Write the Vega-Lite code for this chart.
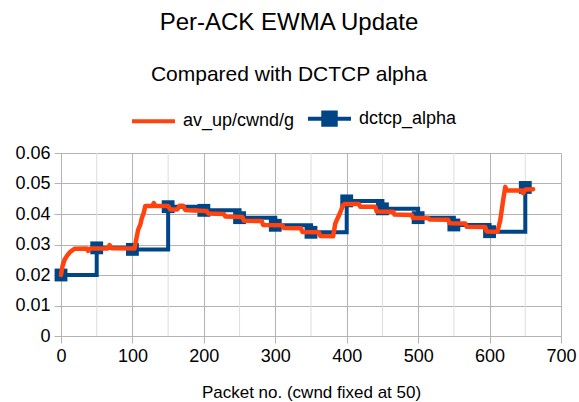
{
  "$schema": "https://vega.github.io/schema/vega-lite/v6.json",
  "width": 500,
  "height": 183,
  "autosize": {"type": "none"},
  "padding": {"left": 61, "top": 153, "right": 18, "bottom": 66},
  "background": "white",
  "title": {
    "text": "Per-ACK EWMA Update",
    "subtitle": "Compared with DCTCP alpha",
    "anchor": "middle",
    "frame": "group",
    "dx": -22,
    "font": "Liberation Sans",
    "fontSize": 24,
    "fontWeight": "normal",
    "color": "black",
    "subtitleFont": "Liberation Sans",
    "subtitleFontSize": 21,
    "subtitleColor": "black",
    "subtitlePadding": 29,
    "offset": 10
  },
  "config": {
    "view": {"stroke": null},
    "font": "Liberation Sans",
    "axis": {
      "labelFont": "Liberation Sans",
      "labelFontSize": 18,
      "labelColor": "black",
      "labelOverlap": false,
      "labelSeparation": 0,
      "titleFont": "Liberation Sans",
      "titleFontSize": 17,
      "titleFontWeight": "normal",
      "titleColor": "black",
      "gridColor": "#b3b3b3",
      "domainColor": "#b3b3b3",
      "tickColor": "#b3b3b3",
      "tickSize": 7,
      "gridWidth": 1,
      "domainWidth": 1,
      "tickWidth": 1
    },
    "axisX": {"labelPadding": 4, "titlePadding": 19},
    "axisY": {"labelPadding": 4, "labelOverlap": false},
    "legend": {
      "orient": "none",
      "legendX": 69,
      "legendY": -58,
      "direction": "horizontal",
      "padding": 0,
      "labelFont": "Liberation Sans",
      "labelFontSize": 18,
      "labelColor": "black",
      "symbolSize": 1849,
      "symbolStrokeWidth": 4,
      "labelOffset": 6,
      "columnPadding": 5
    }
  },
  "data": {"values": [
    {"series": "dctcp_alpha", "x": 0, "y": 0.0200},
    {"series": "dctcp_alpha", "x": 50, "y": 0.0289},
    {"series": "dctcp_alpha", "x": 100, "y": 0.0284},
    {"series": "dctcp_alpha", "x": 150, "y": 0.0424},
    {"series": "dctcp_alpha", "x": 200, "y": 0.0412},
    {"series": "dctcp_alpha", "x": 250, "y": 0.0388},
    {"series": "dctcp_alpha", "x": 300, "y": 0.0363},
    {"series": "dctcp_alpha", "x": 350, "y": 0.0340},
    {"series": "dctcp_alpha", "x": 400, "y": 0.0443},
    {"series": "dctcp_alpha", "x": 450, "y": 0.0417},
    {"series": "dctcp_alpha", "x": 500, "y": 0.0388},
    {"series": "dctcp_alpha", "x": 550, "y": 0.0364},
    {"series": "dctcp_alpha", "x": 600, "y": 0.0342},
    {"series": "dctcp_alpha", "x": 650, "y": 0.0487},
    {"series": "av_up/cwnd/g", "x": 0, "y": 0.0200},
    {"series": "av_up/cwnd/g", "x": 2, "y": 0.0228},
    {"series": "av_up/cwnd/g", "x": 5, "y": 0.0250},
    {"series": "av_up/cwnd/g", "x": 9, "y": 0.0265},
    {"series": "av_up/cwnd/g", "x": 13, "y": 0.0276},
    {"series": "av_up/cwnd/g", "x": 19, "y": 0.0286},
    {"series": "av_up/cwnd/g", "x": 36, "y": 0.0287},
    {"series": "av_up/cwnd/g", "x": 38, "y": 0.0279},
    {"series": "av_up/cwnd/g", "x": 41, "y": 0.0287},
    {"series": "av_up/cwnd/g", "x": 65, "y": 0.0287},
    {"series": "av_up/cwnd/g", "x": 68, "y": 0.0298},
    {"series": "av_up/cwnd/g", "x": 71, "y": 0.0288},
    {"series": "av_up/cwnd/g", "x": 103, "y": 0.0287},
    {"series": "av_up/cwnd/g", "x": 106, "y": 0.0325},
    {"series": "av_up/cwnd/g", "x": 108, "y": 0.0348},
    {"series": "av_up/cwnd/g", "x": 111, "y": 0.0365},
    {"series": "av_up/cwnd/g", "x": 113, "y": 0.0385},
    {"series": "av_up/cwnd/g", "x": 116, "y": 0.0405},
    {"series": "av_up/cwnd/g", "x": 118, "y": 0.0426},
    {"series": "av_up/cwnd/g", "x": 128, "y": 0.0426},
    {"series": "av_up/cwnd/g", "x": 130, "y": 0.0436},
    {"series": "av_up/cwnd/g", "x": 132, "y": 0.0426},
    {"series": "av_up/cwnd/g", "x": 150, "y": 0.0426},
    {"series": "av_up/cwnd/g", "x": 153, "y": 0.0415},
    {"series": "av_up/cwnd/g", "x": 163, "y": 0.0415},
    {"series": "av_up/cwnd/g", "x": 166, "y": 0.0427},
    {"series": "av_up/cwnd/g", "x": 171, "y": 0.0427},
    {"series": "av_up/cwnd/g", "x": 174, "y": 0.0413},
    {"series": "av_up/cwnd/g", "x": 178, "y": 0.0412},
    {"series": "av_up/cwnd/g", "x": 204, "y": 0.0410},
    {"series": "av_up/cwnd/g", "x": 206, "y": 0.0402},
    {"series": "av_up/cwnd/g", "x": 228, "y": 0.0400},
    {"series": "av_up/cwnd/g", "x": 230, "y": 0.0392},
    {"series": "av_up/cwnd/g", "x": 254, "y": 0.0390},
    {"series": "av_up/cwnd/g", "x": 256, "y": 0.0378},
    {"series": "av_up/cwnd/g", "x": 281, "y": 0.0377},
    {"series": "av_up/cwnd/g", "x": 283, "y": 0.0364},
    {"series": "av_up/cwnd/g", "x": 310, "y": 0.0363},
    {"series": "av_up/cwnd/g", "x": 312, "y": 0.0354},
    {"series": "av_up/cwnd/g", "x": 336, "y": 0.0353},
    {"series": "av_up/cwnd/g", "x": 338, "y": 0.0341},
    {"series": "av_up/cwnd/g", "x": 361, "y": 0.0340},
    {"series": "av_up/cwnd/g", "x": 363, "y": 0.0328},
    {"series": "av_up/cwnd/g", "x": 381, "y": 0.0327},
    {"series": "av_up/cwnd/g", "x": 384, "y": 0.0369},
    {"series": "av_up/cwnd/g", "x": 390, "y": 0.0400},
    {"series": "av_up/cwnd/g", "x": 395, "y": 0.0429},
    {"series": "av_up/cwnd/g", "x": 397, "y": 0.0433},
    {"series": "av_up/cwnd/g", "x": 417, "y": 0.0433},
    {"series": "av_up/cwnd/g", "x": 419, "y": 0.0424},
    {"series": "av_up/cwnd/g", "x": 440, "y": 0.0424},
    {"series": "av_up/cwnd/g", "x": 442, "y": 0.0408},
    {"series": "av_up/cwnd/g", "x": 465, "y": 0.0407},
    {"series": "av_up/cwnd/g", "x": 467, "y": 0.0398},
    {"series": "av_up/cwnd/g", "x": 491, "y": 0.0397},
    {"series": "av_up/cwnd/g", "x": 493, "y": 0.0387},
    {"series": "av_up/cwnd/g", "x": 514, "y": 0.0387},
    {"series": "av_up/cwnd/g", "x": 516, "y": 0.0382},
    {"series": "av_up/cwnd/g", "x": 542, "y": 0.0381},
    {"series": "av_up/cwnd/g", "x": 544, "y": 0.0370},
    {"series": "av_up/cwnd/g", "x": 566, "y": 0.0369},
    {"series": "av_up/cwnd/g", "x": 568, "y": 0.0358},
    {"series": "av_up/cwnd/g", "x": 594, "y": 0.0357},
    {"series": "av_up/cwnd/g", "x": 596, "y": 0.0343},
    {"series": "av_up/cwnd/g", "x": 611, "y": 0.0342},
    {"series": "av_up/cwnd/g", "x": 615, "y": 0.0380},
    {"series": "av_up/cwnd/g", "x": 619, "y": 0.0445},
    {"series": "av_up/cwnd/g", "x": 622, "y": 0.0489},
    {"series": "av_up/cwnd/g", "x": 624, "y": 0.0477},
    {"series": "av_up/cwnd/g", "x": 645, "y": 0.0477},
    {"series": "av_up/cwnd/g", "x": 647, "y": 0.0468},
    {"series": "av_up/cwnd/g", "x": 650, "y": 0.0480},
    {"series": "av_up/cwnd/g", "x": 661, "y": 0.0481}
  ]},
  "layer": [
    {
      "data": {"values": [{"m": 50}, {"m": 150}, {"m": 250}, {"m": 350}, {"m": 450}, {"m": 550}, {"m": 650}]},
      "mark": {"type": "rule", "color": "#dddddd", "strokeWidth": 1},
      "encoding": {
        "x": {"field": "m", "type": "quantitative", "scale": {"domain": [0, 700], "nice": false}, "axis": {"values": [0, 100, 200, 300, 400, 500, 600, 700], "labelOverlap": false, "labelFlush": false, "title": "Packet no. (cwnd fixed at 50)"}}
      }
    },
    {
      "transform": [{"filter": "datum.series === 'dctcp_alpha'"}],
      "mark": {"type": "line", "interpolate": "step-after", "strokeWidth": 4},
      "encoding": {
        "x": {"field": "x", "type": "quantitative", "scale": {"domain": [0, 700], "nice": false}, "axis": {"values": [0, 100, 200, 300, 400, 500, 600, 700], "labelOverlap": false, "labelFlush": false, "title": "Packet no. (cwnd fixed at 50)"}},
        "y": {"field": "y", "type": "quantitative", "scale": {"domain": [0, 0.06], "nice": false}, "axis": {"values": [0, 0.01, 0.02, 0.03, 0.04, 0.05, 0.06], "tickCount": 7, "labelOverlap": false, "labelFlush": false, "labelExpr": "datum.value === 0 ? '0' : format(datum.value, '.2f')", "title": null}},
        "color": {"field": "series", "type": "nominal", "scale": {"domain": ["av_up/cwnd/g", "dctcp_alpha"], "range": ["#ff420e", "#004586"]}, "legend": {"title": null, "encode": {"symbols": {"update": {"shape": {"signal": "datum.value === 'dctcp_alpha' ? 'M-1,0H1M-0.29,-0.29H0.29V0.29H-0.29Z' : 'M-1,0H1'"}, "fill": {"signal": "datum.value === 'dctcp_alpha' ? '#004586' : 'transparent'"}, "stroke": {"signal": "datum.value === 'dctcp_alpha' ? '#004586' : '#ff420e'"}, "strokeWidth": {"value": 4}, "opacity": {"value": 1}}}}}}
      }
    },
    {
      "transform": [{"filter": "datum.series === 'dctcp_alpha'"}],
      "mark": {"type": "point", "shape": "square", "filled": true, "size": 165, "opacity": 1},
      "encoding": {
        "x": {"field": "x", "type": "quantitative"},
        "y": {"field": "y", "type": "quantitative"},
        "color": {"field": "series", "type": "nominal"}
      }
    },
    {
      "transform": [{"filter": "datum.series === 'av_up/cwnd/g'"}],
      "mark": {"type": "line", "strokeWidth": 4.5, "strokeJoin": "round", "strokeCap": "round"},
      "encoding": {
        "x": {"field": "x", "type": "quantitative"},
        "y": {"field": "y", "type": "quantitative"},
        "color": {"field": "series", "type": "nominal"}
      }
    }
  ]
}
